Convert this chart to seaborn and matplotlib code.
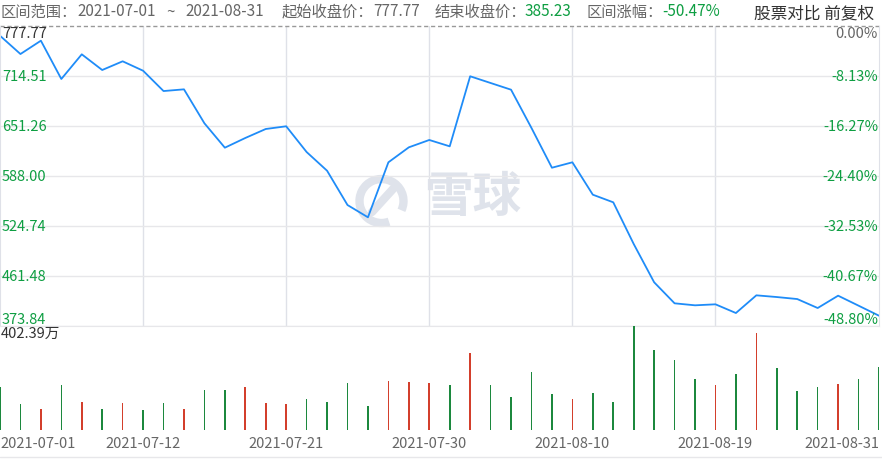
import numpy as np
import pandas as pd
import matplotlib
matplotlib.use('Agg')
import matplotlib.pyplot as plt
import seaborn as sns
from matplotlib.patches import Arc

#%% dados
dates = pd.bdate_range('2021-07-01', '2021-08-31').strftime('%Y-%m-%d')

close = [777.77, 752.1, 770.8, 717.1, 751.7, 729.7, 741.9, 728.7, 700.2, 702.6,
         655.0, 620.8, 634.4, 647.0, 650.8, 614.7, 588.5, 540.4, 523.2, 600.3,
         621.3, 631.6, 622.7, 720.9, 711.5, 702.1, 648.4, 592.7, 600.3, 554.9,
         544.2, 485.8, 432.1, 402.6, 399.8, 401.2, 389.0, 413.8, 411.4, 408.6,
         396.0, 413.3, 399.3, 385.23]

# volume em 万
volume = [165.7, 99.7, 81.5, 173.4, 108.6, 81.5, 103.6, 77.6, 103.6, 81.5,
          155.2, 155.2, 165.7, 103.6, 99.7, 120.3, 107.5, 181.2, 92.0, 190.1,
          186.2, 181.2, 173.4, 298.8, 173.4, 126.9, 225.0, 138.5, 119.1, 142.4,
          108.6, 402.39, 309.2, 270.4, 196.7, 173.4, 216.1, 375.2, 239.4, 150.2,
          165.7, 177.3, 196.7, 244.5]

price_labels = ['777.77', '714.51', '651.26', '588.00', '524.74', '461.48', '373.84']
pct_labels = ['0.00%', '-8.13%', '-16.27%', '-24.40%', '-32.53%', '-40.67%', '-48.80%']
xtick_idx = [0, 7, 14, 21, 28, 35, 43]

# cabecalho: (texto, x em px, verde?)
header = [('区间范围：', 1, False), ('2021-07-01', 77, False), ('~', 166, False),
          ('2021-08-31', 185, False), ('起始收盘价：', 282, False), ('777.77', 373, False),
          ('结束收盘价：', 435, False), ('385.23', 525, True),
          ('区间涨幅：', 587, False), ('-50.47%', 662, True)]

df = pd.DataFrame({'idx': range(len(close)), 'date': dates, 'close': close, 'vol': volume})
df['dir'] = np.where(df['close'].diff() > 0, 'up', 'down')

#%% estilo
sns.set_style('white')
plt.rcParams['font.family'] = ['Noto Sans CJK SC', 'DejaVu Sans']

GREEN = '#0e9e42'
GRAY = '#666666'
DARK = '#333333'
GRID = '#e7e7ea'

W, H = 882, 460
fig = plt.figure(figsize=(W / 100, H / 100), dpi=100)

def px(x0, y0, x1, y1):
    return [x0 / W, 1 - y1 / H, (x1 - x0) / W, (y1 - y0) / H]

# fundo em pixels (cabecalho, marca d'agua)
bg = fig.add_axes([0, 0, 1, 1], zorder=0)
bg.set_xlim(0, W)
bg.set_ylim(H, 0)
bg.axis('off')

wm = '#dfe3eb'
bg.add_patch(Arc((381.5, 202), 44, 44, theta1=70, theta2=385, lw=6, color=wm))
bg.plot([372, 393], [213, 190], color=wm, lw=6, solid_capstyle='round')
bg.text(473, 198, '雪球', fontsize=35, fontweight='bold', color=wm, ha='center', va='center')

for txt, x, g in header:
    bg.text(x, 12, txt, fontsize=11, color=(GREEN if g else GRAY), va='center')
bg.text(874, 14, '股票对比 前复权', fontsize=12, color=DARK, ha='right', va='center')
bg.plot([0, W], [458, 458], color=GRID, lw=1)

#%% preco
ax = fig.add_axes(px(0, 27, 879, 327), zorder=1)
ax.patch.set_alpha(0)
lo, hi = 370.8, 791.4
sns.lineplot(data=df, x='idx', y='close', ax=ax, color='#1f8cf8', lw=1.3)
ax.set_xlim(0, len(close) - 1)
ax.set_ylim(lo, hi)
grid_y = np.linspace(lo, hi, 7)
ax.set_yticks(grid_y[:-1])
ax.set_xticks(xtick_idx[1:-1])
ax.tick_params(length=0, labelleft=False, labelbottom=False)
ax.set_xlabel('')
ax.set_ylabel('')
ax.grid(True, axis='y', color=GRID, lw=1)
ax.grid(True, axis='x', color='#dfe1e8', lw=1)
ax.axhline(hi, color='#999999', lw=1, ls=(0, (3, 2)), clip_on=False)
ax.spines['top'].set_visible(False)
ax.spines['bottom'].set_color(GRID)
for s in ['left', 'right']:
    ax.spines[s].set_color('#dfe1e8')

fs_t = 10.5
for k in range(7):
    y = grid_y[6 - k]
    va = 'top' if k == 0 else ('bottom' if k == 6 else 'center')
    c = DARK if k == 0 else GREEN
    ax.text(0.002, y, price_labels[k], transform=ax.get_yaxis_transform(),
            fontsize=fs_t, color=c, ha='left', va=va)
    ax.text(0.999, y, pct_labels[k], transform=ax.get_yaxis_transform(),
            fontsize=fs_t, color=(GRAY if k == 0 else GREEN), ha='right', va=va)

#%% volume
axv = fig.add_axes(px(0, 327, 879, 431), zorder=1)
axv.patch.set_alpha(0)
sns.barplot(data=df, x='idx', y='vol', hue='dir', palette={'up': '#ef2a10', 'down': '#0a9a37'},
            native_scale=True, width=0.08, dodge=False, errorbar=None, legend=False,
            linewidth=0, ax=axv)
axv.set_xlim(0, len(close) - 1)
axv.set_ylim(0, max(volume))
axv.set_yticks([])
axv.set_xticks(xtick_idx)
axv.set_xticklabels([dates[i] for i in xtick_idx], fontsize=fs_t, color=GRAY)
axv.tick_params(axis='x', length=0, pad=4)
lbls = axv.get_xticklabels()
lbls[0].set_horizontalalignment('left')
lbls[-1].set_horizontalalignment('right')
axv.set_xlabel('')
axv.set_ylabel('')
sns.despine(ax=axv, left=True, bottom=True)
axv.text(0.001, 1.0, '402.39万', transform=axv.transAxes, fontsize=fs_t, color=DARK, va='top')

fig.savefig('out.png', dpi=100)
